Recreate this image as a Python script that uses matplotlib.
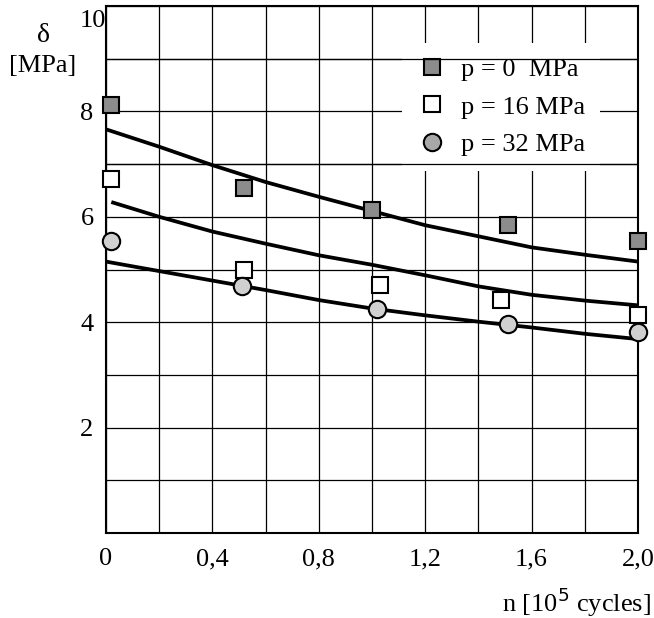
import matplotlib
matplotlib.use("Agg")
import matplotlib.pyplot as plt
from matplotlib.lines import Line2D
from matplotlib.transforms import ScaledTranslation

plt.rcParams['font.family'] = ['Liberation Serif', 'DejaVu Serif']

# Measured points
x0 = [0.017, 0.517, 1.0, 1.51, 2.0]
y0 = [8.12, 6.55, 6.12, 5.84, 5.55]
x16 = [0.02, 0.517, 1.03, 1.485, 2.0]
y16 = [6.71, 4.99, 4.71, 4.42, 4.14]
x32 = [0.02, 0.51, 1.02, 1.51, 2.0]
y32 = [5.55, 4.68, 4.25, 3.97, 3.81]

# Fitted curves
cx = [0.0, 0.2, 0.4, 0.6, 0.8, 1.0, 1.2, 1.4, 1.6, 1.8, 2.0]
c0 = [7.66, 7.33, 6.98, 6.66, 6.38, 6.11, 5.84, 5.63, 5.42, 5.28, 5.15]
cx16 = [0.02, 0.2, 0.4, 0.6, 0.8, 1.0, 1.2, 1.4, 1.6, 1.8, 2.0]
c16 = [6.28, 6.00, 5.72, 5.49, 5.27, 5.09, 4.89, 4.68, 4.52, 4.41, 4.32]
c32 = [5.15, 4.97, 4.79, 4.61, 4.42, 4.26, 4.13, 4.01, 3.90, 3.78, 3.68]

labels = ['p = 0  MPa', 'p = 16 MPa', 'p = 32 MPa']
xticks = [0, 0.4, 0.8, 1.2, 1.6, 2.0]
xticklabels = ['0', '0,4', '0,8', '1,2', '1,6', '2,0']
yticks = [2, 4, 6, 8]

FS = 19

fig = plt.figure(figsize=(6.54, 6.18), dpi=100)
ax = fig.add_axes([106/654, 1-533/618, (638-106)/654, (533-6)/618])
ax.set_xlim(0, 2.0)
ax.set_ylim(0, 10)

grid_x = [i*0.2 for i in range(11)]
ax.set_xticks(grid_x)
ax.set_yticks(range(0, 11))
ax.grid(True, color='black', linewidth=0.9)
ax.set_axisbelow(True)
ax.set_xticklabels([xticklabels[xticks.index(round(g, 1))] if round(g, 1) in xticks else '' for g in grid_x])
ax.set_yticklabels([str(v) if v in yticks else '' for v in range(0, 11)])
ax.tick_params(axis='both', length=0, labelsize=FS)
ax.tick_params(axis='x', pad=11)
ax.tick_params(axis='y', pad=9)
ax.text(0.0, 10, '10', fontsize=FS, ha='right', va='top',
        transform=ax.transData + ScaledTranslation(0, -0.04, fig.dpi_scale_trans))
for s in ax.spines.values():
    s.set_linewidth(1.5)
    s.set_color('black')

ax.plot(cx, c0, color='black', lw=2.7, solid_capstyle='butt', zorder=3)
ax.plot(cx16, c16, color='black', lw=2.7, solid_capstyle='butt', zorder=3)
ax.plot(cx, c32, color='black', lw=2.7, solid_capstyle='butt', zorder=3)

ax.plot(x0, y0, 's', ms=11, mfc='#8c8c8c', mec='black', mew=1.5, clip_on=False, zorder=4)
ax.plot(x16, y16, 's', ms=11.5, mfc='white', mec='black', mew=1.5, clip_on=False, zorder=4)
ax.plot(x32, y32, 'o', ms=12.5, mfc='#d0d0d0', mec='black', mew=1.5, clip_on=False, zorder=4)

handles = [
    Line2D([], [], ls='none', marker='s', ms=11, mfc='#8c8c8c', mec='black', mew=1.5),
    Line2D([], [], ls='none', marker='s', ms=11.5, mfc='white', mec='black', mew=1.5),
    Line2D([], [], ls='none', marker='o', ms=12.5, mfc='#a8a8a8', mec='black', mew=1.5),
]
leg = ax.legend(handles, labels, loc='upper left', bbox_to_anchor=(0.556, 0.930),
                fontsize=FS, frameon=True, fancybox=False, framealpha=1,
                edgecolor='none', facecolor='white', handletextpad=0.49,
                labelspacing=0.54, borderpad=0.55, handlelength=1.2, borderaxespad=0)
ax.axhline(9, color='black', lw=0.9, zorder=6)
ax.axhline(7, color='black', lw=0.9, zorder=6)

fig.text(43/654, 1-35/618, 'δ', fontsize=FS+1, ha='center', va='center')
fig.text(43/654, 1-66/618, '[MPa]', fontsize=FS, ha='center', va='center')
fig.text(651/654, 1-602/618, 'n [10$^5$ cycles]', fontsize=FS, ha='right', va='center')

fig.savefig('out.png', dpi=100)
